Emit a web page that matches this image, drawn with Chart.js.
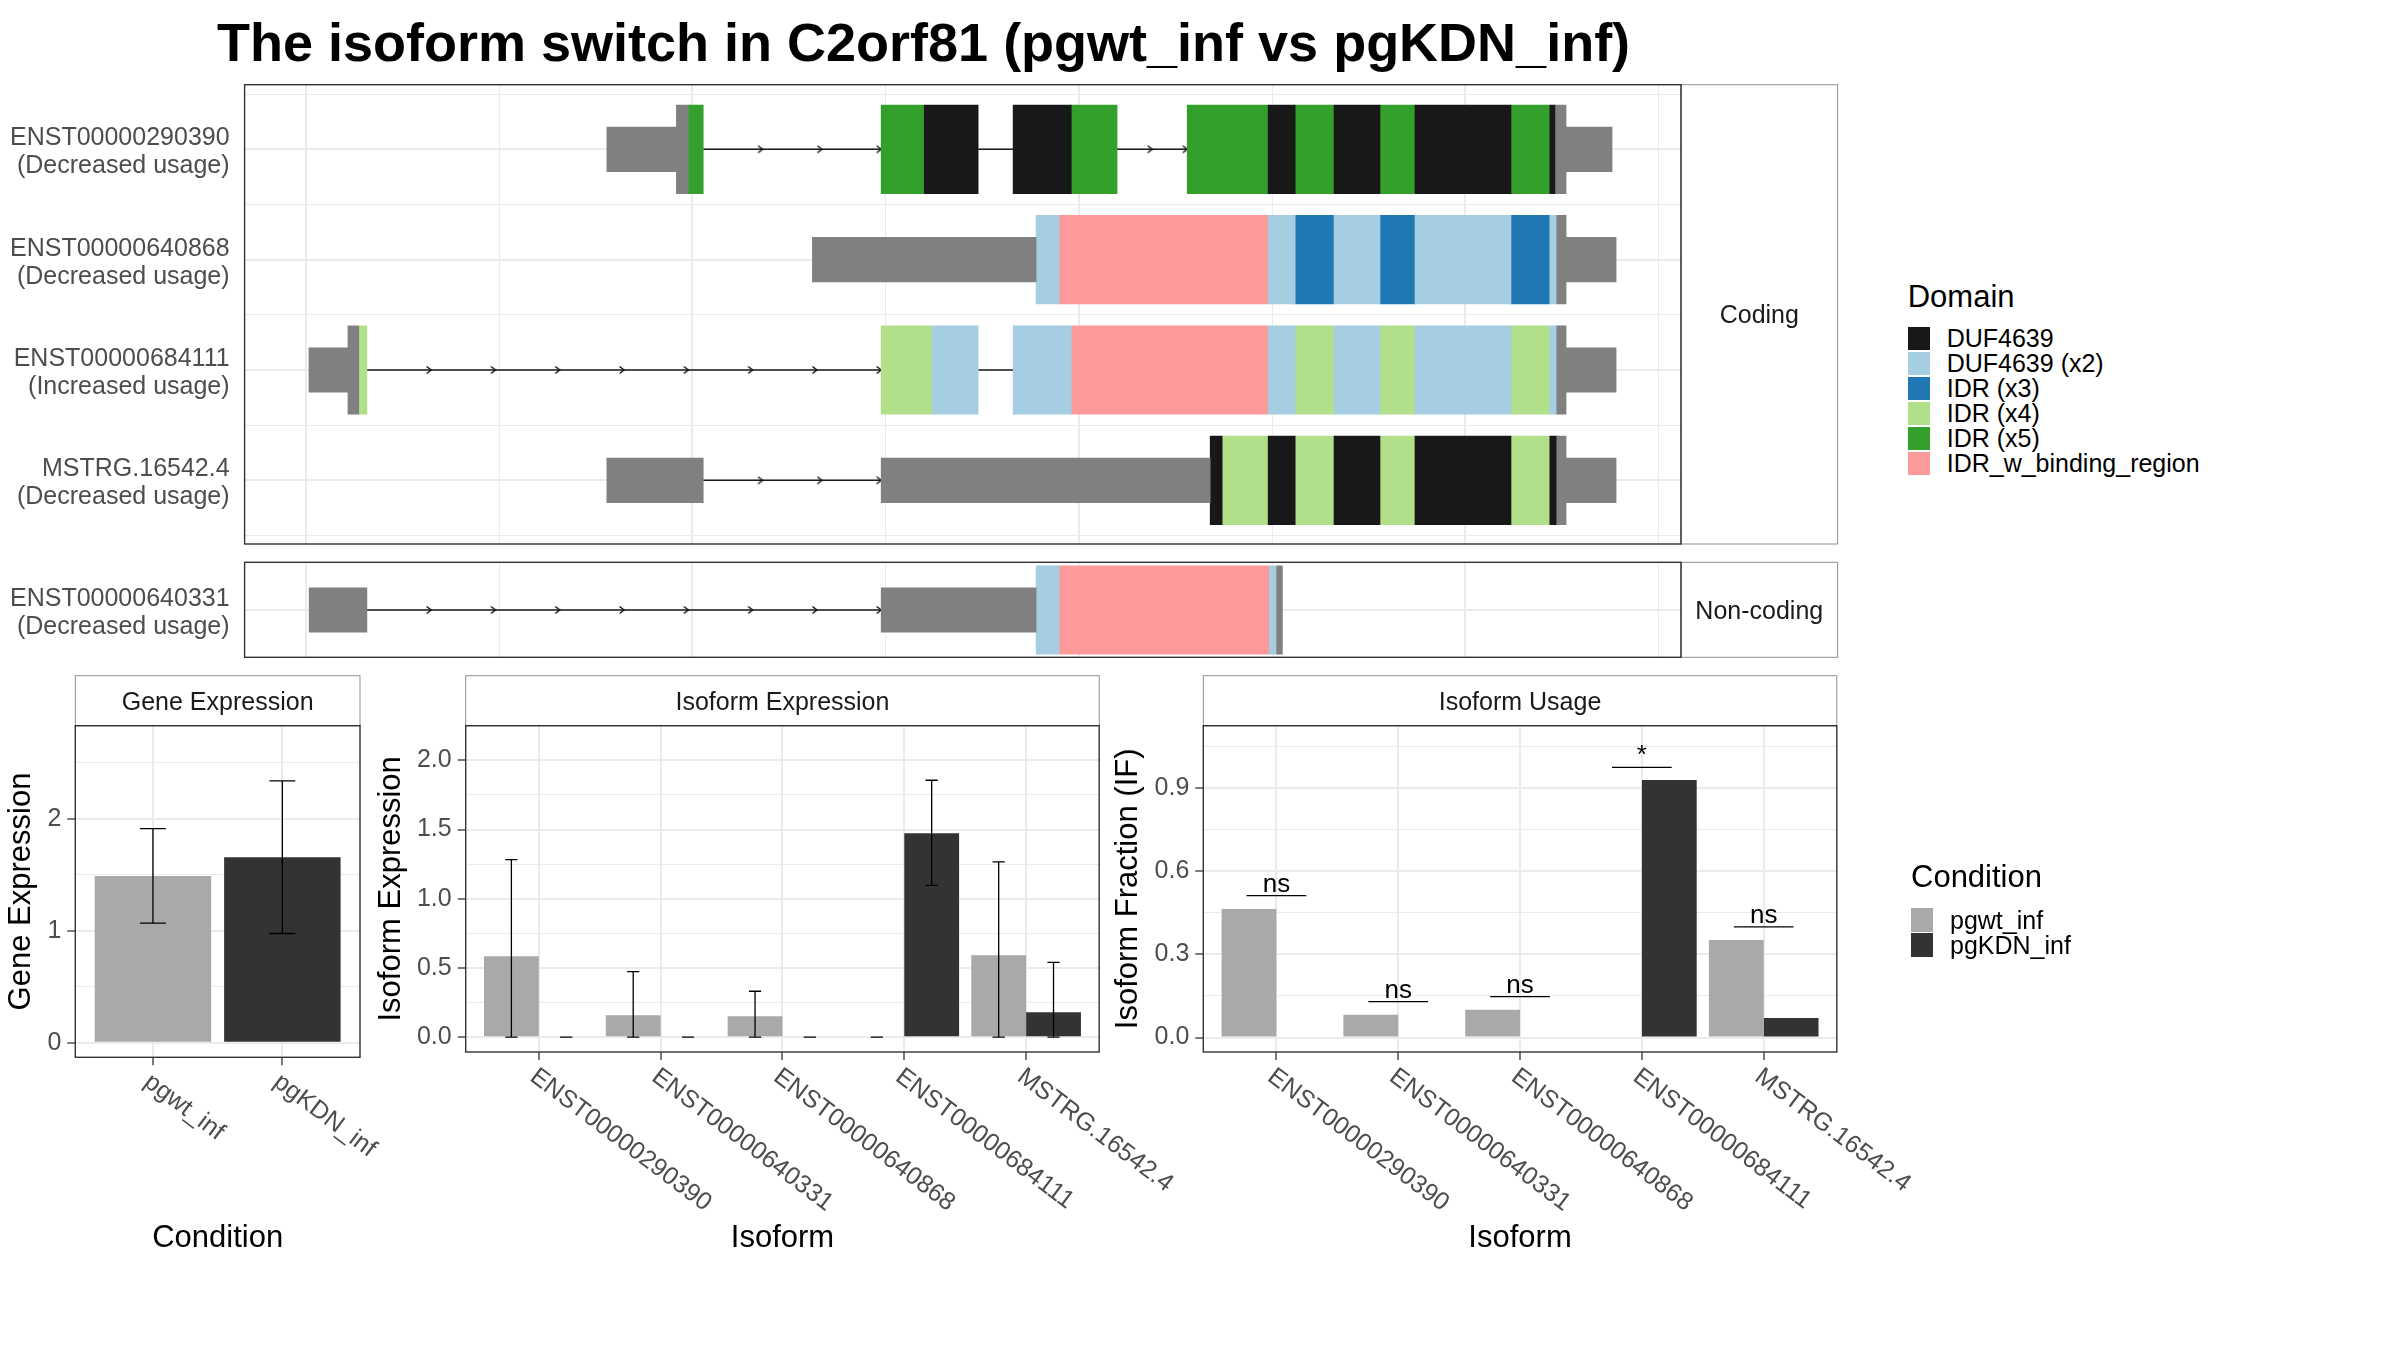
<!DOCTYPE html>
<html>
<head>
<meta charset="utf-8">
<script src="https://cdn.jsdelivr.net/npm/chart.js@4.4.1/dist/chart.umd.min.js"></script>
<style>
  body { margin: 0; width: 2400px; height: 1350px; background: #fff; position: relative; overflow: hidden;
         font-family: 'Liberation Sans', Arial, Helvetica, sans-serif; }
  .txt { position: absolute; white-space: nowrap; color: #000; }
  canvas { position: absolute; }
</style>
</head>
<body>
<div class="txt" style="left:217px;top:15px;font-size:54px;line-height:54px;font-weight:bold;">The isoform switch in C2orf81 (pgwt_inf vs pgKDN_inf)</div>
<script>
// ---------- transcript structure data (x in rescaled genomic units, grid every 100) ----------
const features = ['UTR', 'CDS', 'DUF4639', 'DUF4639 (x2)', 'IDR (x3)', 'IDR (x4)', 'IDR (x5)', 'IDR_w_binding_region'];
const featureColors = ['#808080', '#808080', '#181818', '#A6CEE3', '#1F78B4', '#B2DF8A', '#33A02C', '#FB9A99'];
const domainNames = features.slice(2);
const domainColors = featureColors.slice(2);

const codingIds = ['ENST00000290390', 'ENST00000640868', 'ENST00000684111', 'MSTRG.16542.4'];
const codingUsage = ['(Decreased usage)', '(Decreased usage)', '(Increased usage)', '(Decreased usage)'];
const noncodingIds = ['ENST00000640331'];
const noncodingUsage = ['(Decreased usage)'];

// exon pieces: [start, end, feature]
const tx290390 = [
  [155.7, 191.7, 'UTR'], [191.7, 197.9, 'CDS'], [197.9, 205.6, 'IDR (x5)'],
  [297.7, 320.0, 'IDR (x5)'], [320.0, 347.9, 'DUF4639'],
  [366.0, 396.1, 'DUF4639'], [396.1, 419.8, 'IDR (x5)'],
  [456.1, 498.0, 'IDR (x5)'], [498.0, 512.0, 'DUF4639'], [512.0, 532.1, 'IDR (x5)'],
  [532.1, 555.9, 'DUF4639'], [555.9, 574.0, 'IDR (x5)'], [574.0, 623.7, 'DUF4639'],
  [623.7, 643.8, 'IDR (x5)'], [643.8, 646.8, 'DUF4639'], [646.8, 652.2, 'CDS'], [652.2, 676.0, 'UTR']
];
const tx640868 = [
  [262.1, 377.9, 'UTR'], [377.9, 389.9, 'DUF4639 (x2)'], [389.9, 498.0, 'IDR_w_binding_region'],
  [498.0, 512.0, 'DUF4639 (x2)'], [512.0, 532.1, 'IDR (x3)'], [532.1, 555.9, 'DUF4639 (x2)'],
  [555.9, 574.0, 'IDR (x3)'], [574.0, 623.7, 'DUF4639 (x2)'], [623.7, 643.8, 'IDR (x3)'],
  [643.8, 647.4, 'DUF4639 (x2)'], [647.4, 652.2, 'CDS'], [652.2, 678.1, 'UTR']
];
const tx684111 = [
  [1.5, 21.7, 'UTR'], [21.7, 27.3, 'CDS'], [27.3, 31.5, 'IDR (x4)'],
  [297.7, 324.2, 'IDR (x4)'], [324.2, 347.9, 'DUF4639 (x2)'],
  [366.0, 396.1, 'DUF4639 (x2)'], [396.1, 498.0, 'IDR_w_binding_region'], [498.0, 512.0, 'DUF4639 (x2)'],
  [512.0, 532.1, 'IDR (x4)'], [532.1, 555.9, 'DUF4639 (x2)'], [555.9, 574.0, 'IDR (x4)'],
  [574.0, 623.7, 'DUF4639 (x2)'], [623.7, 643.8, 'IDR (x4)'], [643.8, 647.4, 'DUF4639 (x2)'],
  [647.4, 652.2, 'CDS'], [652.2, 678.1, 'UTR']
];
const txMSTRG = [
  [155.7, 205.6, 'UTR'],
  [297.7, 468.0, 'UTR'], [468.0, 474.2, 'DUF4639'], [474.2, 498.0, 'IDR (x4)'], [498.0, 512.0, 'DUF4639'],
  [512.0, 532.1, 'IDR (x4)'], [532.1, 555.9, 'DUF4639'], [555.9, 574.0, 'IDR (x4)'], [574.0, 623.7, 'DUF4639'],
  [623.7, 643.8, 'IDR (x4)'], [643.8, 647.4, 'DUF4639'], [647.4, 652.2, 'CDS'], [652.2, 678.1, 'UTR']
];
const tx640331 = [
  [1.6, 31.5, 'UTR'],
  [297.7, 377.9, 'UTR'], [377.9, 389.9, 'DUF4639 (x2)'], [389.9, 498.7, 'IDR_w_binding_region'],
  [498.7, 502.4, 'DUF4639 (x2)'], [502.4, 505.4, 'CDS']
];
const codingTx = [tx290390, tx640868, tx684111, txMSTRG];
const noncodingTx = [tx640331];
const xGridTicks = [0, 100, 200, 300, 400, 500, 600, 700];

// ---------- expression data ----------
const conditions = ['pgwt_inf', 'pgKDN_inf'];
const conditionColors = ['#A9A9A9', '#333333'];
const geneMean = [1.488, 1.655];
const geneLow = [1.067, 0.975];
const geneHigh = [1.911, 2.337];

const isoforms = ['ENST00000290390', 'ENST00000640331', 'ENST00000640868', 'ENST00000684111', 'MSTRG.16542.4'];
const isoExpWt = [0.585, 0.159, 0.152, 0, 0.592];
const isoExpWtLow = [0, 0, 0, 0, 0];
const isoExpWtHigh = [1.283, 0.474, 0.332, 0, 1.266];
const isoExpKdn = [0, 0, 0, 1.473, 0.18];
const isoExpKdnLow = [0, 0, 0, 1.097, 0];
const isoExpKdnHigh = [0, 0, 0, 1.856, 0.541];

const ifWt = [0.464, 0.082, 0.1, 0, 0.352];
const ifKdn = [0, 0, 0, 0.929, 0.071];
const sigText = ['ns', 'ns', 'ns', '*', 'ns'];
const sigLevel = [0.512, 0.13, 0.148, 0.975, 0.399];

const geneTicks = [0, 1, 2];
const isoExpTicks = [0, 0.5, 1, 1.5, 2];
const ifTicks = [0, 0.3, 0.6, 0.9];

// ---------- setup ----------
const FONT = "'Liberation Sans', Arial, Helvetica, sans-serif";
Chart.defaults.font.family = FONT;
Chart.defaults.color = '#4d4d4d';

function makeCanvas(left, top, w, h) {
  const c = document.createElement('canvas');
  c.width = w; c.height = h;
  c.style.left = left + 'px'; c.style.top = top + 'px';
  c.style.width = w + 'px'; c.style.height = h + 'px';
  document.body.appendChild(c);
  return c;
}

function addText(text, left, top, size) {
  const d = document.createElement('div');
  d.className = 'txt';
  d.textContent = text;
  d.style.left = left + 'px'; d.style.top = top + 'px';
  d.style.fontSize = size + 'px'; d.style.lineHeight = size + 'px';
  document.body.appendChild(d);
}

// open arrow head used along introns
const chevron = document.createElement('canvas');
chevron.width = 14; chevron.height = 10;
(function () {
  const c = chevron.getContext('2d');
  c.strokeStyle = '#111'; c.lineWidth = 1.4;
  c.beginPath(); c.moveTo(2.5, 1.5); c.lineTo(7, 5); c.lineTo(2.5, 8.5); c.stroke();
})();

// panel border + facet strip
function panelFrame(label, side, size) {
  return {
    id: 'panelFrame',
    afterDraw(chart) {
      const { ctx, chartArea: a } = chart;
      ctx.save();
      const r = side === 'right' ? [a.right, a.top, size, a.bottom - a.top]
                                 : [a.left, a.top - size, a.right - a.left, size];
      ctx.fillStyle = '#fff';
      ctx.fillRect(r[0], r[1], r[2], r[3]);
      ctx.strokeStyle = '#8f8f8f'; ctx.lineWidth = 1;
      ctx.strokeRect(r[0], r[1], r[2], r[3]);
      ctx.fillStyle = '#1a1a1a';
      ctx.font = '25px ' + FONT;
      ctx.textAlign = 'center'; ctx.textBaseline = 'middle';
      ctx.fillText(label, r[0] + r[2] / 2, r[1] + r[3] / 2 + 2);
      ctx.strokeStyle = '#333'; ctx.lineWidth = 1.4;
      ctx.strokeRect(a.left, a.top, a.right - a.left, a.bottom - a.top);
      ctx.restore();
    }
  };
}

// error bars read from dataset.errLow / dataset.errHigh
function errorBars(capUnits) {
  return {
    id: 'errorBars',
    afterDatasetsDraw(chart) {
      const { ctx, scales: { x, y } } = chart;
      const half = (x.getPixelForValue(capUnits) - x.getPixelForValue(0)) / 2;
      ctx.save();
      ctx.strokeStyle = '#000'; ctx.lineWidth = 1.3;
      chart.data.datasets.forEach((ds, d) => {
        if (!ds.errHigh) return;
        chart.getDatasetMeta(d).data.forEach((bar, i) => {
          const yl = y.getPixelForValue(ds.errLow[i]);
          const yh = y.getPixelForValue(ds.errHigh[i]);
          ctx.beginPath();
          ctx.moveTo(bar.x, yl); ctx.lineTo(bar.x, yh);
          ctx.moveTo(bar.x - half, yl); ctx.lineTo(bar.x + half, yl);
          ctx.moveTo(bar.x - half, yh); ctx.lineTo(bar.x + half, yh);
          ctx.stroke();
        });
      });
      ctx.restore();
    }
  };
}

// slanted category labels under the x axis
function slantLabels(labels) {
  return {
    id: 'slantLabels',
    afterDraw(chart) {
      const { ctx, chartArea: a, scales: { x } } = chart;
      ctx.save();
      ctx.font = '25px ' + FONT;
      ctx.fillStyle = '#4d4d4d';
      ctx.textAlign = 'left'; ctx.textBaseline = 'middle';
      labels.forEach((t, i) => {
        ctx.save();
        ctx.translate(x.getPixelForValue(i) - 6, a.bottom + 22);
        ctx.rotate(37 * Math.PI / 180);
        ctx.fillText(t, 0, 0);
        ctx.restore();
      });
      ctx.restore();
    }
  };
}

// significance marks over the isoform usage bars
function sigMarks(texts, levels) {
  return {
    id: 'sigMarks',
    afterDatasetsDraw(chart) {
      const { ctx, scales: { x, y } } = chart;
      const half = x.getPixelForValue(0.245) - x.getPixelForValue(0);
      ctx.save();
      ctx.strokeStyle = '#000'; ctx.fillStyle = '#000'; ctx.lineWidth = 1.3;
      ctx.font = '26px ' + FONT;
      ctx.textAlign = 'center'; ctx.textBaseline = 'alphabetic';
      texts.forEach((t, i) => {
        const cx = x.getPixelForValue(i), cy = y.getPixelForValue(levels[i]);
        ctx.beginPath(); ctx.moveTo(cx - half, cy); ctx.lineTo(cx + half, cy); ctx.stroke();
        ctx.fillText(t, cx, cy - 4);
      });
      ctx.restore();
    }
  };
}

// ---------- transcript panels ----------
function transcriptPanel(top, height, padTop, padBottom, ids, usage, txs, yMin, yMax, rowTicks, strip) {
  const cv = makeCanvas(0, top, 1860, height);
  const datasets = [];
  features.forEach((f, k) => {
    const pts = [];
    txs.forEach((tx, row) => tx.forEach(s => { if (s[2] === f) pts.push({ x: [s[0], s[1]], y: row }); }));
    if (!pts.length) return;
    datasets.push({
      type: 'bar', indexAxis: 'y', data: pts, grouped: false,
      barThickness: f === 'UTR' ? 44.5 : 88.5,
      backgroundColor: featureColors[k], borderWidth: 0, order: 0
    });
  });
  txs.forEach((tx, row) => {
    for (let k = 1; k < tx.length; k++) {
      const a = tx[k - 1][1], b = tx[k][0];
      if (b - a < 1) continue;
      datasets.push({
        type: 'scatter', data: [{ x: a, y: row }, { x: b, y: row }], showLine: true,
        borderColor: '#1a1a1a', borderWidth: 1.5, pointRadius: 0, order: 2
      });
      // short introns carry no arrow heads
      const n = (b - a) < 25 ? 0 : Math.ceil((b - a) / 34);
      const heads = [];
      for (let j = 1; j <= n; j++) heads.push({ x: a + (b - a) * j / n, y: row });
      if (heads.length) datasets.push({ type: 'scatter', data: heads, pointStyle: chevron, pointRadius: 3, order: 1 });
    }
  });
  return new Chart(cv, {
    type: 'bar',
    data: { datasets },
    options: {
      responsive: false, animation: false, events: [], devicePixelRatio: 1,
      layout: { padding: { left: 0, right: 179, top: padTop, bottom: padBottom } },
      plugins: { legend: { display: false }, tooltip: { enabled: false } },
      scales: {
        x: {
          type: 'linear', min: -31.8, max: 711.7, offset: false, beginAtZero: false,
          afterBuildTicks: s => { s.ticks = xGridTicks.map(v => ({ value: v })); },
          afterFit: s => { s.height = 0; s.paddingLeft = 0; s.paddingRight = 0; },
          ticks: { display: false },
          grid: { offset: false, color: '#ebebeb', lineWidth: c => (c.tick && c.tick.value % 200 === 0) ? 2 : 1, drawTicks: false },
          border: { display: false }
        },
        y: {
          type: 'linear', reverse: true, min: yMin, max: yMax, offset: false, beginAtZero: false,
          afterBuildTicks: s => { s.ticks = rowTicks.map(v => ({ value: v })); },
          afterFit: s => { s.width = 244.6; s.paddingTop = 0; s.paddingBottom = 0; },
          ticks: {
            autoSkip: false, padding: 15, color: '#4d4d4d', labelOffset: 3,
            font: { size: 25, lineHeight: 1.12 },
            callback: v => (Number.isInteger(v) && ids[v]) ? [ids[v], usage[v]] : ''
          },
          grid: { offset: false, color: '#ebebeb', lineWidth: c => (c.tick && Number.isInteger(c.tick.value)) ? 2 : 1, drawTicks: false },
          border: { display: false }
        }
      }
    },
    plugins: [panelFrame(strip, 'right', 156.6)]
  });
}

transcriptPanel(70, 490, 14.7, 16, codingIds, codingUsage, codingTx, -0.5855, 3.577,
  [-0.5, 0, 0.5, 1, 1.5, 2, 2.5, 3, 3.5], 'Coding');
transcriptPanel(550, 120, 12.3, 12.7, noncodingIds, noncodingUsage, noncodingTx, -0.432, 0.429,
  [0], 'Non-coding');

// ---------- bar panels ----------
function withMinor(major) {
  const all = major.slice();
  for (let i = 1; i < major.length; i++) all.push((major[i - 1] + major[i]) / 2);
  all.push(major[major.length - 1] + (major[1] - major[0]) / 2);
  return all.sort((a, b) => a - b);
}

function barPanel(o) {
  const cv = makeCanvas(o.left, 640, o.width, 640);
  const gridTicks = withMinor(o.major);
  const isMajor = v => o.major.indexOf(v) >= 0;
  return new Chart(cv, {
    type: 'bar',
    data: { datasets: o.datasets },
    options: {
      responsive: false, animation: false, events: [], devicePixelRatio: 1,
      layout: { padding: { left: 0, top: 85.7, right: o.padRight, bottom: 0 } },
      plugins: { legend: { display: false }, tooltip: { enabled: false } },
      scales: {
        x: {
          type: 'linear', min: -0.6, max: o.labels.length - 0.4, offset: false,
          afterBuildTicks: s => { s.ticks = o.labels.map((l, i) => ({ value: i })); },
          afterFit: s => { s.height = 1280 - o.bottom; s.paddingLeft = 0; s.paddingRight = 0; },
          ticks: { display: false },
          grid: { offset: false, color: '#ebebeb', lineWidth: 2, tickLength: 8, tickWidth: 1.3, tickColor: '#333' },
          border: { display: false },
          title: { display: true, text: o.xTitle, color: '#000', font: { size: 31 }, padding: { top: 0, bottom: 23.4 } }
        },
        y: {
          type: 'linear', min: o.yMin, max: o.yMax, offset: false, beginAtZero: false,
          afterBuildTicks: s => { s.ticks = gridTicks.filter(v => v <= o.yMax).map(v => ({ value: v })); },
          afterFit: s => { s.width = o.axisWidth; s.paddingTop = 0; s.paddingBottom = 0; },
          ticks: { autoSkip: false, padding: 6, color: '#4d4d4d', font: { size: 25 },
                   callback: v => isMajor(v) ? o.fmt(v) : '' },
          grid: {
            offset: false, color: '#ebebeb', tickLength: 8, tickWidth: 1.3,
            lineWidth: c => (c.tick && isMajor(c.tick.value)) ? 2 : 1,
            tickColor: c => (c.tick && isMajor(c.tick.value)) ? '#333' : 'rgba(0,0,0,0)'
          },
          border: { display: false },
          title: { display: true, text: o.yTitle, color: '#000', font: { size: 31 }, padding: { top: o.yTitlePad, bottom: 0 } }
        }
      }
    },
    plugins: [panelFrame(o.strip, 'top', 50), errorBars(o.cap), slantLabels(o.labels)].concat(o.extra || [])
  });
}

barPanel({
  left: 0, width: 420, padRight: 60, axisWidth: 75.3, bottom: 1057.3,
  labels: conditions, strip: 'Gene Expression', xTitle: 'Condition', yTitle: 'Gene Expression', yTitlePad: 2.8,
  yMin: -0.13, yMax: 2.83, major: geneTicks, fmt: v => String(v), cap: 0.2,
  datasets: [{
    data: conditions.map((c, i) => ({ x: i, y: geneMean[i] })),
    backgroundColor: conditionColors, categoryPercentage: 0.9, barPercentage: 1,
    errLow: geneLow, errHigh: geneHigh
  }]
});

barPanel({
  left: 360, width: 880, padRight: 140.8, axisWidth: 105.7, bottom: 1052,
  labels: isoforms, strip: 'Isoform Expression', xTitle: 'Isoform', yTitle: 'Isoform Expression', yTitlePad: 12.4,
  yMin: -0.107, yMax: 2.25, major: isoExpTicks, fmt: v => v.toFixed(1), cap: 0.1,
  datasets: [
    { data: isoforms.map((s, i) => ({ x: i, y: isoExpWt[i] })), backgroundColor: conditionColors[0],
      categoryPercentage: 0.9, barPercentage: 1, errLow: isoExpWtLow, errHigh: isoExpWtHigh },
    { data: isoforms.map((s, i) => ({ x: i, y: isoExpKdn[i] })), backgroundColor: conditionColors[1],
      categoryPercentage: 0.9, barPercentage: 1, errLow: isoExpKdnLow, errHigh: isoExpKdnHigh }
  ]
});

barPanel({
  left: 1100, width: 900, padRight: 163.2, axisWidth: 103.3, bottom: 1052,
  labels: isoforms, strip: 'Isoform Usage', xTitle: 'Isoform', yTitle: 'Isoform Fraction (IF)', yTitlePad: 9.4,
  yMin: -0.052, yMax: 1.125, major: ifTicks, fmt: v => v.toFixed(1), cap: 0.1,
  datasets: [
    { data: isoforms.map((s, i) => ({ x: i, y: ifWt[i] })), backgroundColor: conditionColors[0],
      categoryPercentage: 0.9, barPercentage: 1 },
    { data: isoforms.map((s, i) => ({ x: i, y: ifKdn[i] })), backgroundColor: conditionColors[1],
      categoryPercentage: 0.9, barPercentage: 1 }
  ],
  extra: [sigMarks(sigText, sigLevel)]
});

// ---------- legends ----------
function legend(x, titleTop, keyTop, labelX, title, names, colors) {
  addText(title, x, titleTop, 31);
  names.forEach((n, i) => {
    const k = document.createElement('div');
    k.style.cssText = 'position:absolute;left:' + x + 'px;top:' + (keyTop + i * 25) +
      'px;width:22px;height:23.4px;background:' + colors[i];
    document.body.appendChild(k);
    addText(n, labelX, keyTop + i * 25 - 0.5, 25);
  });
}
legend(1907.7, 280.8, 326.7, 1946.7, 'Domain', domainNames, domainColors);
legend(1911, 860.5, 908.3, 1950, 'Condition', conditions, conditionColors);
</script>
</body>
</html>
